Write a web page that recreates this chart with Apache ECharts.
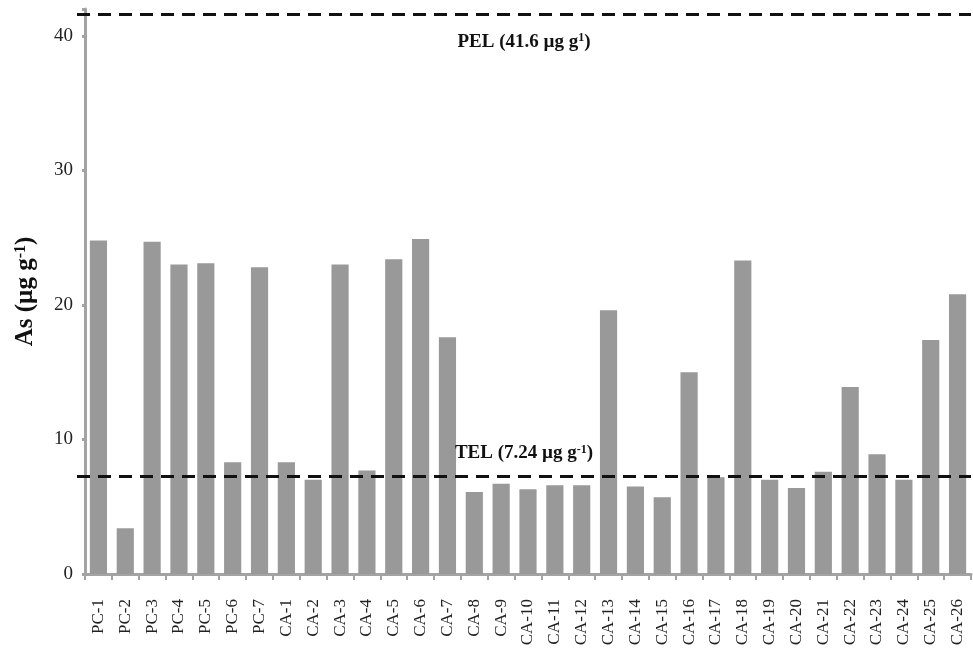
<!DOCTYPE html>
<html>
<head>
<meta charset="utf-8">
<script src="https://cdn.jsdelivr.net/npm/echarts@6/dist/echarts.min.js"></script>
<style>
  html, body { margin: 0; padding: 0; background: #fff; }
  #chart { width: 973px; height: 648px; }
</style>
</head>
<body>
<div id="chart"></div>
<script>
// Sampling sites
const sites = [
  'PC-1', 'PC-2', 'PC-3', 'PC-4', 'PC-5', 'PC-6', 'PC-7',
  'CA-1', 'CA-2', 'CA-3', 'CA-4', 'CA-5', 'CA-6', 'CA-7', 'CA-8', 'CA-9', 'CA-10',
  'CA-11', 'CA-12', 'CA-13', 'CA-14', 'CA-15', 'CA-16', 'CA-17', 'CA-18', 'CA-19', 'CA-20',
  'CA-21', 'CA-22', 'CA-23', 'CA-24', 'CA-25', 'CA-26'
];

// Arsenic concentration in sediment (µg g-1)
const arsenic = [
  24.8, 3.4, 24.7, 23.0, 23.1, 8.3, 22.8,
  8.3, 7.0, 23.0, 7.7, 23.4, 24.9, 17.6, 6.1, 6.7, 6.3,
  6.6, 6.6, 19.6, 6.5, 5.7, 15.0, 7.2, 23.3, 7.0, 6.4,
  7.6, 13.9, 8.9, 7.0, 17.4, 20.8
];

// Sediment quality guidelines
const TEL = 7.24;
const PEL = 41.6;

// Value axis ticks
const yTicks = [0, 10, 20, 30, 40];
const yMax = 42;

const serif = '"Liberation Serif", "DejaVu Serif", serif';
const grey = '#a3a3a3';

const chart = echarts.init(document.getElementById('chart'));

const guideLabel = {
  fontFamily: serif,
  fontWeight: 'bold',
  fontSize: 19,
  color: '#111',
  rich: {
    sup: { fontFamily: serif, fontWeight: 'bold', fontSize: 12, color: '#111', verticalAlign: 'top', lineHeight: 12 }
  }
};

chart.setOption({
  animation: false,
  grid: [
    { left: 85, right: 2, top: 9, bottom: 74, containLabel: false, outerBoundsMode: 'none' },
    { left: 77, right: 2, top: 9, bottom: 74, containLabel: false, outerBoundsMode: 'none' }
  ],
  xAxis: [
    {
      type: 'category',
      gridIndex: 0,
      data: sites,
      boundaryGap: true,
      axisLine: { lineStyle: { color: grey, width: 3 } },
      axisTick: { show: true, length: 6, alignWithLabel: false, lineStyle: { color: grey, width: 2 } },
      axisLabel: {
        interval: 0,
        rotate: 90,
        margin: 25,
        fontFamily: serif,
        fontSize: 17,
        color: '#222'
      },
      splitLine: { show: false }
    },
    { type: 'value', gridIndex: 1, min: 0, max: 1, show: false }
  ],
  yAxis: [
    {
      type: 'value',
      gridIndex: 0,
      min: 0,
      max: yMax,
      interval: 10,
      name: 'As (µg g{sup|-1})',
      nameLocation: 'middle',
      nameRotate: 90,
      nameGap: 47,
      nameTextStyle: {
        fontFamily: serif,
        fontWeight: 'bold',
        fontSize: 25,
        color: '#111',
        rich: {
          sup: { fontFamily: serif, fontWeight: 'bold', fontSize: 16, color: '#111', verticalAlign: 'top', lineHeight: 14 }
        }
      },
      axisLine: { show: true, lineStyle: { color: grey, width: 3 } },
      axisTick: { show: true, length: 3, lineStyle: { color: grey, width: 3 } },
      axisLabel: {
        margin: 12,
        fontFamily: serif,
        fontSize: 19,
        color: '#222',
        formatter: v => (yTicks.indexOf(v) >= 0 ? String(v) : '')
      },
      splitLine: { show: false }
    },
    { type: 'value', gridIndex: 1, min: 0, max: yMax, show: false }
  ],
  series: [
    {
      type: 'bar',
      xAxisIndex: 0,
      yAxisIndex: 0,
      data: arsenic,
      barWidth: '64%',
      itemStyle: { color: '#999999' }
    },
    {
      type: 'scatter',
      xAxisIndex: 1,
      yAxisIndex: 1,
      data: [],
      silent: true,
      markLine: {
        symbol: 'none',
        silent: true,
        animation: false,
        lineStyle: { color: '#111', width: 3, type: [13, 8] },
        data: [
          {
            yAxis: PEL,
            label: Object.assign({}, guideLabel, {
              position: 'insideMiddleBottom',
              distance: 18,
              formatter: 'PEL (' + PEL + ' µg g{sup|1})'
            })
          },
          {
            yAxis: TEL,
            label: Object.assign({}, guideLabel, {
              position: 'insideMiddleTop',
              distance: 14,
              formatter: 'TEL (' + TEL + ' µg g{sup|-1})'
            })
          }
        ]
      }
    }
  ]
});
</script>
</body>
</html>
